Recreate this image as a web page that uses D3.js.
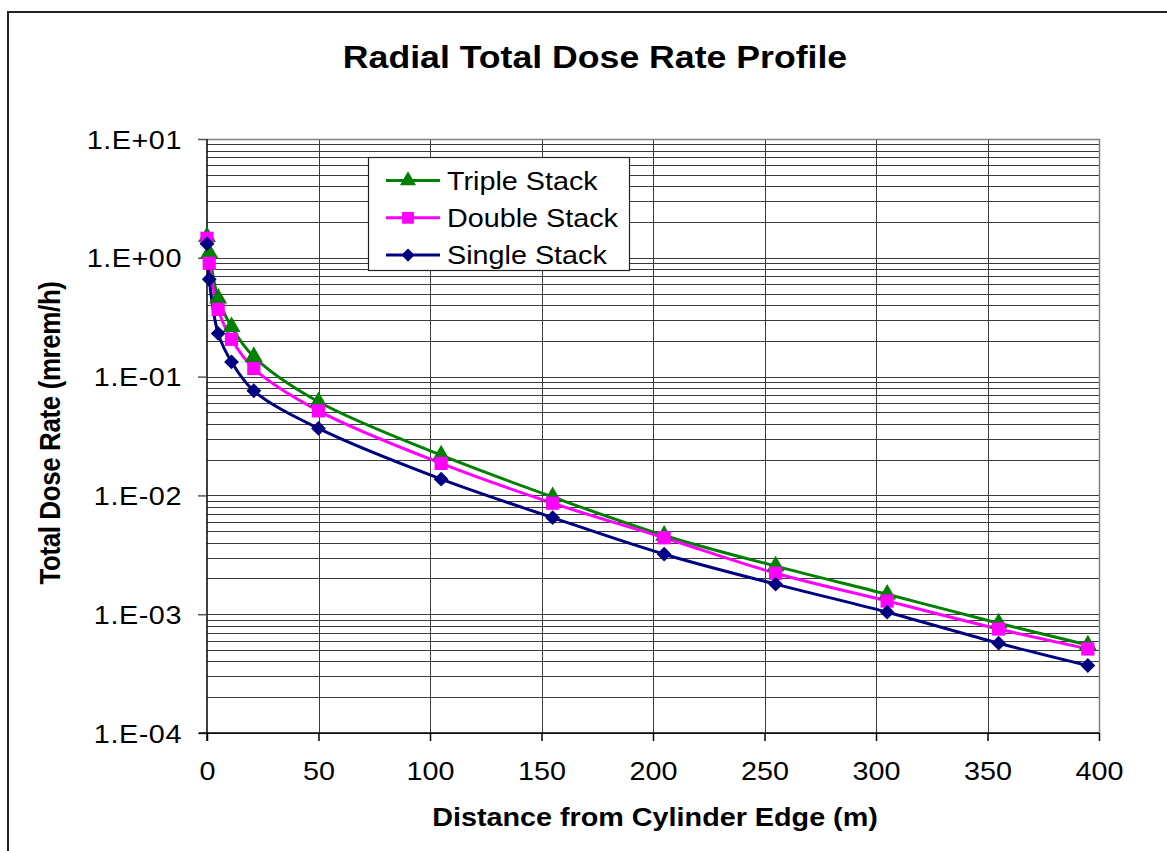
<!DOCTYPE html>
<html>
<head>
<meta charset="utf-8">
<script src="https://cdn.jsdelivr.net/npm/d3@7"></script>
<style>
  html, body { margin: 0; padding: 0; background: #fff; }
  svg { display: block; }
  text { font-family: "Liberation Sans", Arial, sans-serif; fill: #000; }
</style>
</head>
<body>
<svg id="chart" width="1167" height="851"></svg>
<script>
// Distance from the cylinder edge (m) and total dose rate (mrem/h) per stacking case
const distance = [0, 1, 5, 11, 21, 50, 105, 155, 205, 255, 305, 355, 395];
const tripleStack = [1.5, 1.1, 0.456, 0.262, 0.147, 0.0614, 0.0218, 0.0097, 0.0046, 0.00254, 0.00147, 0.00084, 0.00055];
const doubleStack = [1.46, 0.9, 0.368, 0.206, 0.117, 0.0515, 0.0186, 0.0086, 0.0044, 0.00221, 0.00129, 0.00075, 0.00051];
const singleStack = [1.31, 0.66, 0.231, 0.133, 0.076, 0.0366, 0.0137, 0.0065, 0.0032, 0.00179, 0.00104, 0.00057, 0.00037];

const seriesNames = ["Triple Stack", "Double Stack", "Single Stack"];
const xTicks = [0, 50, 100, 150, 200, 250, 300, 350, 400];
const yTicks = [1e1, 1e0, 1e-1, 1e-2, 1e-3, 1e-4];
const yTickLabels = ["1.E+01", "1.E+00", "1.E-01", "1.E-02", "1.E-03", "1.E-04"];

const chartTitle = "Radial Total Dose Rate Profile";
const xTitle = "Distance from Cylinder Edge (m)";
const yTitle = "Total Dose Rate (mrem/h)";

// square diamond marker (equal width and height)
const symbolRhombus = {
  draw(context, size) {
    const r = Math.sqrt(size / 2);
    context.moveTo(0, -r);
    context.lineTo(r, 0);
    context.lineTo(0, r);
    context.lineTo(-r, 0);
    context.closePath();
  }
};

const series = [
  { name: seriesNames[0], values: tripleStack, color: "#008000", symbol: d3.symbolTriangle, size: 140 },
  { name: seriesNames[1], values: doubleStack, color: "#FF00FF", symbol: d3.symbolSquare, size: 175 },
  { name: seriesNames[2], values: singleStack, color: "#000080", symbol: symbolRhombus, size: 110 }
];

const SX = 1.15; // horizontal stretch of the text glyphs
const svg = d3.select("#chart");

const plot = { left: 207, right: 1099, top: 139, bottom: 733 };
const x = d3.scaleLinear().domain([0, 400]).range([plot.left, plot.right]);
const y = d3.scaleLog().domain([1e-4, 1e1]).range([plot.bottom, plot.top]);

// outer frame
svg.append("rect")
  .attr("x", 8).attr("y", 12).attr("width", 1180).attr("height", 860)
  .attr("fill", "#fff").attr("stroke", "#222").attr("stroke-width", 2);

// minor + major horizontal gridlines (1..9 within each decade)
const minorVals = [];
for (let e = -4; e < 1; e++) {
  for (let m = 1; m <= 9; m++) minorVals.push(m * Math.pow(10, e));
}
minorVals.push(10);
svg.append("g").selectAll("line").data(minorVals).join("line")
  .attr("x1", plot.left).attr("x2", plot.right)
  .attr("y1", d => Math.round(y(d)) + 0.5).attr("y2", d => Math.round(y(d)) + 0.5)
  .attr("stroke", "#3a3a3a").attr("stroke-width", 1);

// vertical gridlines
svg.append("g").selectAll("line").data(xTicks.slice(1)).join("line")
  .attr("x1", d => Math.round(x(d)) + 0.5).attr("x2", d => Math.round(x(d)) + 0.5)
  .attr("y1", plot.top).attr("y2", plot.bottom)
  .attr("stroke", "#3a3a3a").attr("stroke-width", 1);

// plot area border (top/right)
svg.append("path")
  .attr("d", `M${plot.left},${plot.top + 0.5}H${plot.right + 0.5}V${plot.bottom}`)
  .attr("fill", "none").attr("stroke", "#808080").attr("stroke-width", 1.5);

// y axis
const yAxis = d3.axisLeft(y).tickValues(yTicks)
  .tickFormat((d, i) => yTickLabels[i]).tickSize(9).tickSizeOuter(0);
const gy = svg.append("g").attr("transform", `translate(${plot.left},0)`).call(yAxis);
gy.select(".domain").attr("stroke", "#000").attr("stroke-width", 1.5)
  .attr("d", `M0,${plot.top}V${plot.bottom + 8}`);
gy.selectAll(".tick line").attr("stroke", "#555").attr("stroke-width", 1.5);
gy.selectAll(".tick text")
  .attr("x", null).attr("dy", null)
  .attr("transform", `translate(-25,9) scale(${SX},1)`)
  .attr("text-anchor", "end")
  .style("font-size", "25px").style("font-family", "'Liberation Sans', Arial, sans-serif")
  .style("letter-spacing", "0.5px");

// x axis
const xAxis = d3.axisBottom(x).tickValues(xTicks).tickSize(8).tickSizeOuter(0);
const gx = svg.append("g").attr("transform", `translate(0,${plot.bottom})`).call(xAxis);
gx.select(".domain").attr("stroke", "#000").attr("stroke-width", 1.5)
  .attr("d", `M${plot.left - 8},0H${plot.right}`);
gx.selectAll(".tick line").attr("stroke", "#000").attr("stroke-width", 1.5);
gx.selectAll(".tick text")
  .attr("y", null).attr("dy", null)
  .attr("transform", `translate(0,47) scale(${SX},1)`)
  .attr("text-anchor", "middle")
  .style("font-size", "25px").style("font-family", "'Liberation Sans', Arial, sans-serif");

// series lines and markers
const line = d3.line()
  .x((d, i) => x(distance[i]))
  .y(d => y(d))
  .curve(d3.curveCatmullRom.alpha(0.5));

series.forEach(s => {
  svg.append("path")
    .datum(s.values)
    .attr("d", line)
    .attr("fill", "none")
    .attr("stroke", s.color)
    .attr("stroke-width", 3);
});
series.forEach(s => {
  svg.append("g").selectAll("path").data(s.values).join("path")
    .attr("transform", (d, i) => `translate(${x(distance[i])},${y(d)})`)
    .attr("d", d3.symbol().type(s.symbol).size(s.size))
    .attr("fill", s.color);
});

// legend
const legend = svg.append("g").attr("transform", "translate(368,157)");
legend.append("rect")
  .attr("x", 0.5).attr("y", 0.5).attr("width", 261).attr("height", 113)
  .attr("fill", "#fff").attr("stroke", "#222").attr("stroke-width", 1.2);
series.forEach((s, i) => {
  const ly = 23.5 + i * 37.3;
  const g = legend.append("g").attr("transform", `translate(0,${ly})`);
  g.append("line").attr("x1", 18).attr("x2", 72).attr("y1", 0).attr("y2", 0)
    .attr("stroke", s.color).attr("stroke-width", 3);
  g.append("path").attr("transform", "translate(40,0)")
    .attr("d", d3.symbol().type(s.symbol).size(s.size * 0.8))
    .attr("fill", s.color);
  g.append("text")
    .attr("transform", `translate(79,9) scale(${SX},1)`)
    .style("font-size", "25px")
    .text(s.name);
});

// titles
svg.append("text")
  .attr("transform", `translate(595,68) scale(${SX},1)`)
  .attr("text-anchor", "middle")
  .style("font-size", "31px").style("font-weight", "bold")
  .text(chartTitle);

svg.append("text")
  .attr("transform", `translate(655,826) scale(${SX},1)`)
  .attr("text-anchor", "middle")
  .style("font-size", "25px").style("font-weight", "bold")
  .text(xTitle);

svg.append("text")
  .attr("transform", `translate(60,433) scale(${SX},1) rotate(-90)`)
  .attr("text-anchor", "middle")
  .style("font-size", "26px").style("font-weight", "bold")
  .style("letter-spacing", "-0.4px")
  .text(yTitle);
</script>
</body>
</html>
